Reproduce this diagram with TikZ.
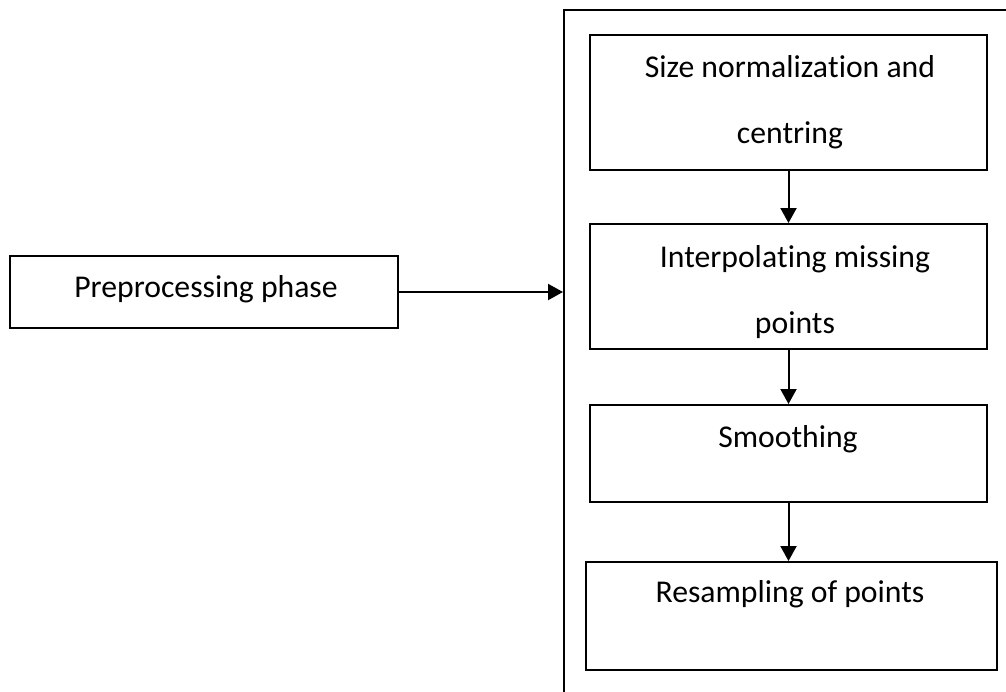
\documentclass[tikz,border=0pt]{standalone}
\usepackage{fontspec}
\setmainfont[Ligatures=NoCommon]{Carlito}
\usetikzlibrary{arrows.meta}

\begin{document}
\begin{tikzpicture}[x=0.5pt, y=-0.5pt, line width=1pt,
    font=\fontsize{15.85}{33}\selectfont,
    stepbox/.style={draw=black, rectangle, inner sep=0pt},
    caption/.style={anchor=base, align=center, inner sep=0pt},
    flow/.style={-{Triangle[length=7.5pt, width=8pt]}},
  ]
  \useasboundingbox (0,0) rectangle (1006,691);
  \clip (0,0) rectangle (1006,691);

  % outer frame of the phase (runs off the page)
  \node[stepbox, minimum width=233pt, minimum height=355pt] (phase) at (797,365) {};

  % left box
  \node[stepbox, minimum width=194pt, minimum height=36pt] (pre) at (204,292) {};
  \node[caption] (pretext) at (206,297) {Preprocessing phase};

  % the four steps (base of a two-line caption = its last line)
  \node[stepbox, minimum width=198.5pt, minimum height=67.5pt] (size) at (788.5,102.5) {};
  \node[caption] (sizetext) at (790,143) {Size normaliza\kern0pt tion and\\centring};

  \node[stepbox, minimum width=198.5pt, minimum height=62.5pt] (interp) at (788.5,286.5) {};
  \node[caption] (interptext) at (795,333) {Interpola\kern0pt ting missing\\points};

  \node[stepbox, minimum width=198.5pt, minimum height=48.5pt] (smooth) at (788.5,453.5) {};
  \node[caption] (smoothtext) at (788,447) {Smoothing};

  \node[stepbox, minimum width=205.5pt, minimum height=54pt] (resample) at (791.5,616) {};
  \node[caption] (resampletext) at (790,602) {Resampling of points};

  % connectors
  \draw[flow] (pre.east) -- (pre.east -| phase.west);
  \draw[flow] (size.south) -- (interp.north);
  \draw[flow] (interp.south) -- (smooth.north);
  \draw[flow] (smooth.south) -- (smooth.south |- resample.north);
\end{tikzpicture}
\end{document}
